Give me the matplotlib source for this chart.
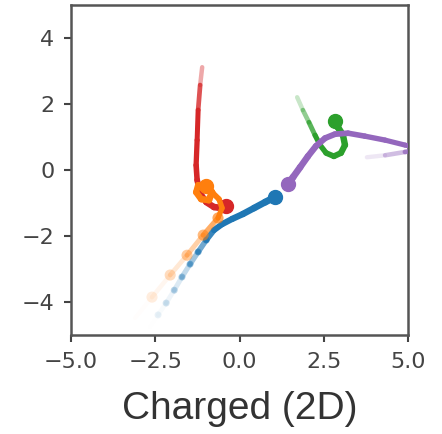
import matplotlib.pyplot as plt
from matplotlib.collections import LineCollection
from matplotlib.colors import to_rgba
import numpy as np

# trajectories (x, y), oldest point first
red_x = [-1.11, -1.17, -1.23, -1.26, -1.29, -1.26, -1.17, -0.99, -0.76, -0.52, -0.40]
red_y = [3.12, 2.58, 1.82, 0.91, 0.15, -0.30, -0.70, -0.97, -1.12, -1.15, -1.09]

blue_x = [-2.66, -2.42, -2.18, -1.94, -1.71, -1.47, -1.23, -0.99, -0.76, -0.52, -0.22, 0.10, 0.43, 0.76, 1.05]
blue_y = [-4.76, -4.39, -4.03, -3.64, -3.24, -2.85, -2.48, -2.12, -1.82, -1.64, -1.48, -1.33, -1.15, -0.97, -0.82]

orange_x = [-3.10, -2.60, -2.06, -1.56, -1.08, -0.64, -0.52, -0.61, -0.82, -1.02, -1.23, -1.29, -1.14, -0.91, -0.82, -0.99]
orange_y = [-4.48, -3.85, -3.18, -2.58, -1.97, -1.45, -1.15, -0.88, -0.67, -0.48, -0.45, -0.67, -0.88, -0.91, -0.67, -0.48]

purple_x = [3.78, 4.32, 4.91, 5.42, 4.91, 4.32, 3.72, 3.22, 2.83, 2.54, 2.27, 2.03, 1.80, 1.59, 1.44]
purple_y = [0.39, 0.45, 0.55, 0.64, 0.76, 0.91, 1.03, 1.12, 1.09, 0.97, 0.73, 0.42, 0.09, -0.21, -0.42]

green_x = [1.71, 1.88, 2.06, 2.24, 2.39, 2.57, 2.80, 3.01, 3.13, 3.07, 2.92, 2.83]
green_y = [2.21, 1.82, 1.45, 1.06, 0.76, 0.52, 0.42, 0.52, 0.76, 1.06, 1.30, 1.48]

xticks = [-5.0, -2.5, 0.0, 2.5, 5.0]
yticks = [-4, -2, 0, 2, 4]


def trail(ax, xs, ys, color, z, fade=0.3, power=1.0, bead=0, nbeads=0):
    xs = np.array(xs)
    ys = np.array(ys)
    n = len(xs)
    t = np.linspace(0, 1, n)
    alpha = np.clip(t / fade, 0, 1)
    rgba = np.array([to_rgba(color)] * n)
    rgba[:, 3] = alpha
    line_rgba = rgba.copy()
    line_rgba[:, 3] = alpha ** power
    pts = np.column_stack([xs, ys])
    segs = np.stack([pts[:-1], pts[1:]], axis=1)
    lc = LineCollection(segs, colors=line_rgba[1:], linewidths=3.0 + 2.0 * t[1:],
                        capstyle="round", joinstyle="round", zorder=z)
    ax.add_collection(lc)
    if bead:
        ax.scatter(xs[:nbeads], ys[:nbeads], s=bead ** 2, c=rgba[:nbeads] * [1, 1, 1, 0.8],
                   edgecolors="none", zorder=z)
    ax.plot(xs[-1], ys[-1], "o", color=color, ms=10, zorder=z + 0.1)


fig = plt.figure(figsize=(4.42, 4.34), dpi=100)
ax = fig.add_axes([0.161, 0.228, 0.762, 0.760])

trail(ax, red_x, red_y, "#d62728", 2, fade=0.25)
trail(ax, green_x, green_y, "#2ca02c", 3, fade=0.35)
trail(ax, blue_x, blue_y, "#1f77b4", 4, fade=0.6, power=2.5, bead=5, nbeads=8)
trail(ax, purple_x, purple_y, "#9467bd", 5, fade=0.25, power=1.5)
trail(ax, orange_x, orange_y, "#ff7f0e", 6, fade=0.4, power=2.5, bead=8, nbeads=6)

ax.set_xlim(-5, 5)
ax.set_ylim(-5, 5)
ax.set_xticks(xticks)
ax.set_xticklabels([f"{v:.1f}".replace("-", "\u2212") for v in xticks])
ax.set_yticks(yticks)
ax.set_yticklabels([f"{v}".replace("-", "\u2212") for v in yticks])
ax.tick_params(labelsize=16, colors="#444444", length=5, width=1.5, pad=7)
for s in ax.spines.values():
    s.set_color("#555555")
    s.set_linewidth(1.8)

ax.set_xlabel("Charged (2D)", fontsize=28, family="Liberation Sans", color="#333333", labelpad=14)

fig.savefig("out.png", dpi=100)
